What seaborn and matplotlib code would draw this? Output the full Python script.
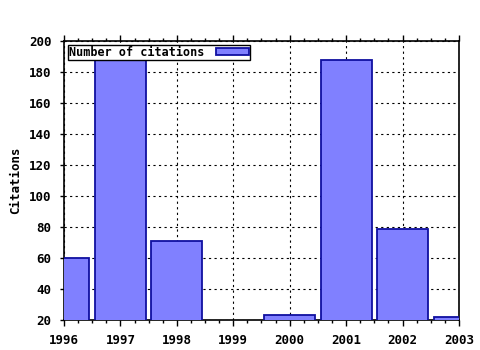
import matplotlib
matplotlib.use("Agg")
import matplotlib.pyplot as plt
import seaborn as sns
import pandas as pd
from matplotlib.ticker import MultipleLocator, FixedLocator

years = ["1996", "1997", "1998", "1999", "2000", "2001", "2002", "2003"]
citations = [60, 190, 71, 0, 23, 188, 79, 22]

sns.set_theme(style="white")
plt.rcParams["font.family"] = ["DejaVu Sans Mono"]
plt.rcParams["font.weight"] = "bold"
plt.rcParams["text.color"] = "black"
plt.rcParams["axes.labelcolor"] = "black"

df = pd.DataFrame({"year": years, "citations": citations})

fig = plt.figure(figsize=(4.8, 3.5), dpi=100)
ax = fig.add_axes([64/480, 1-320/350, (459-64)/480, (320-41)/350])

sns.barplot(data=df, x="year", y="citations", ax=ax, width=0.9,
            color="#8080ff", saturation=1, edgecolor="#1010a0", linewidth=1.3,
            label="Number of citations", zorder=3)

ax.set_xlim(0, 7)
ax.set_ylim(20, 200)
ax.xaxis.set_major_locator(FixedLocator(range(8)))
ax.set_xticklabels(years)
ax.xaxis.set_minor_locator(MultipleLocator(0.25))
ax.yaxis.set_major_locator(MultipleLocator(20))

ax.grid(True, which="major", color="black", linestyle=(0, (2, 3)), linewidth=0.8, zorder=0)
ax.set_axisbelow(True)

for s in ax.spines.values():
    s.set_color("black")
    s.set_linewidth(1.2)

ax.tick_params(axis="x", which="major", direction="out", length=4, width=1,
               colors="black", labelsize=9, top=True, bottom=True, pad=6)
ax.tick_params(axis="x", which="minor", direction="out", length=2.5, width=1,
               colors="black", top=True, bottom=True)
ax.tick_params(axis="y", which="major", direction="out", length=3, width=1,
               colors="black", labelsize=9, left=True, right=False, pad=6)
for lab in ax.get_xticklabels() + ax.get_yticklabels():
    lab.set_fontweight("bold")

ax.set_xlabel("")
ax.set_ylabel("Citations", fontsize=9, fontweight="bold", labelpad=5, color="black")

leg = ax.legend(loc="upper left", frameon=True, fancybox=False,
                prop={"family": "DejaVu Sans Mono", "weight": "bold", "size": 8.5},
                borderpad=0.1, handlelength=2.8, handleheight=0.5,
                borderaxespad=0.3, markerfirst=False, handletextpad=1.0,
                framealpha=1, labelcolor="black")
leg.get_frame().set_edgecolor("black")
leg.get_frame().set_linewidth(1.0)

fig.savefig("out.png", dpi=100, facecolor="white")
